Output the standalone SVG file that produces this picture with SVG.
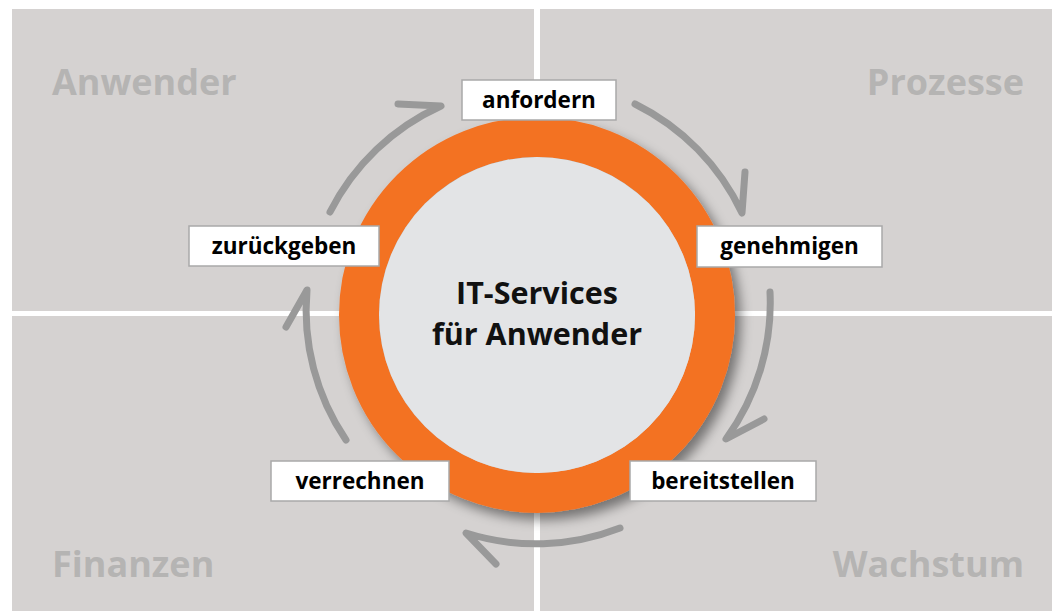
<svg xmlns="http://www.w3.org/2000/svg" width="1052" height="611" viewBox="0 0 1052 611">
<defs>
<style>
.panel{fill:#d5d2d1}
.qt{font-family:"Open Sans","Noto Sans",sans-serif;font-weight:700;font-size:36px;fill:#b5b4b3}
.box{fill:#ffffff;stroke:#a9a9a9;stroke-width:1.5}
.lt{font-family:"Open Sans","Noto Sans",sans-serif;font-weight:700;font-size:22.5px;fill:#000;text-anchor:middle}
.ct{font-family:"Open Sans","Noto Sans",sans-serif;font-weight:700;font-size:30.5px;fill:#111;text-anchor:middle}
.arr{fill:none;stroke:#999999;stroke-width:7;stroke-linecap:round;stroke-linejoin:round}
</style>
<filter id="sh" x="-20%" y="-20%" width="140%" height="140%">
<feDropShadow dx="6" dy="7" stdDeviation="6" flood-color="#000" flood-opacity="0.45"/>
</filter>
</defs>
<rect width="1052" height="611" fill="#ffffff"/>
<g id="quadrants">
<rect class="panel" x="12" y="9" width="522" height="302"/>
<rect class="panel" x="540" y="9" width="512" height="302"/>
<rect class="panel" x="12" y="316" width="522" height="295"/>
<rect class="panel" x="540" y="316" width="512" height="295"/>
<text class="qt" x="52" y="95">Anwender</text>
<text class="qt" x="1024" y="95" text-anchor="end">Prozesse</text>
<text class="qt" x="52" y="577">Finanzen</text>
<text class="qt" x="1024" y="577" text-anchor="end">Wachstum</text>
</g>
<g id="center">
<circle cx="537" cy="315" r="178" fill="none" stroke="#f37224" stroke-width="40" filter="url(#sh)"/>
<circle cx="537" cy="315" r="158" fill="#e3e4e6"/>
<text class="ct" x="537" y="304">IT-Services</text>
<text class="ct" x="537" y="345">für Anwender</text>
</g>
<g id="connectors">
<path class="arr" d="M330,212 A231,231 0 0 1 441,106 L398,104"/>
<path class="arr" d="M635,104 A231,231 0 0 1 742,213 L745,172"/>
<path class="arr" d="M770,292 A231,231 0 0 1 726,439 L764,419"/>
<path class="arr" d="M620,528 A231,231 0 0 1 466,533 L496,564"/>
<path class="arr" d="M346,440 A231,231 0 0 1 307,290 L286,327"/>
</g>
<g id="anfordern">
<rect class="box" x="462" y="80" width="154" height="40"/>
<text class="lt" x="539" y="108">anfordern</text>
</g>
<g id="genehmigen">
<rect class="box" x="697" y="226" width="185" height="41"/>
<text class="lt" x="789.5" y="254">genehmigen</text>
</g>
<g id="bereitstellen">
<rect class="box" x="630" y="461" width="186" height="40"/>
<text class="lt" x="723" y="489">bereitstellen</text>
</g>
<g id="verrechnen">
<rect class="box" x="271" y="461" width="178" height="40"/>
<text class="lt" x="360" y="489">verrechnen</text>
</g>
<g id="zurueckgeben">
<rect class="box" x="189" y="226" width="190" height="40"/>
<text class="lt" x="284" y="254">zurückgeben</text>
</g>
</svg>
